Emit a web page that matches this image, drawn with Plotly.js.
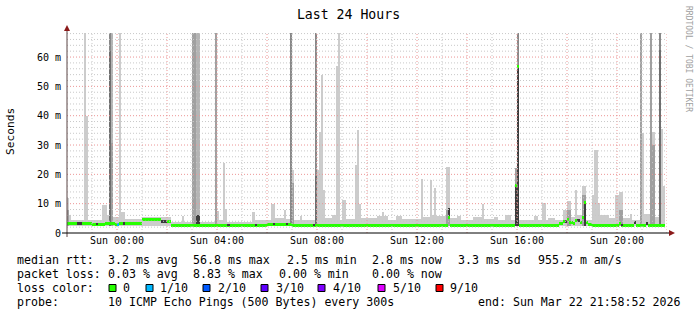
<!DOCTYPE html>
<html><head><meta charset="utf-8">
<script src="https://cdn.plot.ly/plotly-3.0.1.min.js"></script>
<style>html,body{margin:0;padding:0;background:#fff;}#chart{width:697px;height:315px;}</style>
</head><body><div id="chart"></div>
<script>
// ---------- DATA (times are HH:MM, window Sat 22:00 -> Sun 22:00) ----------
// light smoke (outer pings)
const lightFrom = ["22:00","22:05","22:10","22:40","22:45","22:50","23:25","23:35","23:50","00:05","00:10","00:20","01:00","02:10","02:35","02:40","03:20","04:00","04:05","04:15","04:20","04:25","05:25","05:30","06:10","06:20","06:40","06:45","07:00","07:05","07:20","07:25","08:00","08:05","08:10","08:15","08:20","08:35","08:45","08:50","08:55","09:00","09:10","09:30","09:35","09:40","09:45","10:25","10:35","10:40","10:50","11:10","11:25","12:10","12:15","12:30","12:35","12:40","12:45","13:10","13:20","13:35","13:45","14:15","14:35","14:40","15:05","15:15","15:30","15:45","16:05","16:40","16:50","17:00","17:10","17:15","17:30","17:50","18:00","18:10","18:20","18:25","18:35","18:45","19:00","19:05","19:15","19:20","19:40","19:55","20:05","20:15","20:30","20:35","21:00","21:05","21:25","21:30","21:45","21:50"];
const lightTo   = ["22:05","22:10","22:40","22:45","22:50","23:25","23:35","23:40","00:05","00:10","00:20","01:00","02:10","02:35","02:40","03:00","03:55","04:05","04:15","04:20","04:25","05:25","05:30","06:10","06:20","06:40","06:45","06:55","07:05","07:20","07:25","07:55","08:05","08:10","08:15","08:20","08:35","08:45","08:50","08:55","09:00","09:10","09:30","09:35","09:40","09:45","10:25","10:35","10:40","10:50","11:10","11:25","12:10","12:15","12:30","12:35","12:40","12:45","13:10","13:20","13:35","13:45","14:15","14:35","14:40","15:05","15:15","15:30","15:45","15:55","16:40","16:50","17:00","17:10","17:15","17:30","17:50","18:00","18:10","18:20","18:25","18:35","18:45","19:00","19:05","19:15","19:20","19:40","19:55","20:05","20:15","20:30","20:35","20:55","21:05","21:20","21:30","21:40","21:50","21:55"];
const lightTop  = [12,6,4.5,70,40,4.3,9.6,6.2,5.5,70,7,4.8,5.4,3.6,5.7,3.6,3.8,7.4,4.5,24,8.3,3.9,7,4.5,10,5.2,8,4.8,21.6,4.3,5.9,4.3,21.6,34.6,54,14.5,5,6.2,56.8,70,4.5,11.4,4.8,23.3,35.2,10,5,5.9,7,5.9,4.5,5.9,4.8,18.5,5.5,18,6,15.5,5.8,22.5,5,5.9,4.5,5.5,10,4.8,5.6,4.5,6.2,4.5,4.5,5.9,4.5,10.3,4.5,5.2,4.5,8,10.8,5.5,14.8,6,16,4.5,13,28.2,10.3,6.2,5,12.8,14,5,6.5,4.5,34,6.5,34.6,5.5,35.5,16];
// pale smoke
const paleFrom = ["23:45","03:10"];
const paleTo   = ["23:50","03:20"];
const paleTop  = [70,70];
// grey smoke
const greyFrom = ["22:00","23:45","03:00","03:55","07:00","13:10","15:55","18:00","18:35","20:05","20:55","21:20","21:25"];
const greyTo   = ["22:05","23:50","03:10","04:00","07:05","13:20","16:00","18:10","18:45","20:15","21:00","21:25","21:30"];
const greyTop  = [8,30.7,70,70,17,8,22,8,13,8,70,70,30];
// dark smoke
const darkFrom = ["23:40","06:55","07:55","16:00","21:40"];
const darkTo   = ["23:45","07:00","08:00","16:05","21:45"];
const darkTop  = [70,70,70,70,70];
// darker smoke
const deepFrom = ["23:40","07:55","21:40"];
const deepTo   = ["23:45","08:00","21:45"];
const deepTop  = [62,19.3,62.5];
// densest smoke
const blackFrom = ["15:55","16:00","18:40","03:10"];
const blackTo   = ["16:00","16:05","18:45","03:20"];
const blackTop  = [16.1,56.8,10.3,6];
// median rtt (ms) and loss class per step
const medFrom  = ["22:00","22:10","22:40","23:00","23:30","23:55","00:00","00:05","00:25","01:00","01:45","02:10","04:00","06:00","07:00","13:15","13:20","15:55","16:00","16:05","17:40","17:50","18:00","18:05","18:15","18:20","18:30","18:35","18:40","18:45","18:50","19:00","20:05","20:10","20:40","20:45","21:10","21:15"];
const medTo    = ["22:10","22:40","23:00","23:30","23:55","00:00","00:05","00:25","01:00","01:45","02:10","04:00","06:00","07:00","13:15","13:20","15:55","16:00","16:05","17:40","17:50","18:00","18:05","18:15","18:20","18:30","18:35","18:40","18:45","18:50","19:00","20:05","20:10","20:40","20:45","21:10","21:15","21:55"];
const medValue = [3.4,3.1,3.3,3.0,3.3,3.0,3.0,3.1,3.2,4.5,3.8,2.6,2.7,3.0,2.7,5.3,2.7,16.1,56.8,2.7,3.2,3.9,4.5,3.6,3.2,4.2,3.5,5.3,10.4,3.5,3.0,2.7,3.3,2.7,3.5,2.7,3.4,2.7];
const medLoss  = [0,0,0,0,0,0,1,0,0,0,0,0,0,0,0,0,0,0,0,0,0,0,0,0,0,0,0,0,0,0,0,0,0,0,0,0,0,0];
// dense ping clusters drawn over the median
const markFrom = ["22:25","23:10","00:15","01:45","04:25","05:30","06:15","06:45","07:50","13:15","17:55","18:25","20:10","20:40","21:10"];
const markTo   = ["22:35","23:15","00:20","02:00","04:30","05:35","06:20","06:50","07:55","13:20","18:00","18:30","20:15","20:45","21:15"];
const markLow  = [2.7,2.6,2.7,3.5,2.3,2.3,2.6,2.6,2.3,5.8,3.4,3.7,2.3,3.0,2.9];
const markHigh = [3.6,3.5,3.6,4.5,3.2,3.2,3.5,3.5,3.2,8.5,4.4,4.7,3.2,4.0,3.9];
const smokeFloor = 2.4;
// axes
const tickTimes  = ["00:00","04:00","08:00","12:00","16:00","20:00"];
const tickLabels = ["Sun 00:00","Sun 04:00","Sun 08:00","Sun 12:00","Sun 16:00","Sun 20:00"];
const yTickValues = [0,10,20,30,40,50,60];
const yTickLabels = ["0","10 m","20 m","30 m","40 m","50 m","60 m"];
// legend
const lossNames  = ["0","1/10","2/10","3/10","4/10","5/10","9/10"];
const lossColors = ["#26ff00","#00b8ff","#0059ff","#5e00ff","#7e00ff","#dd00ff","#ff0000"];
const rttText  = ["median rtt:","3.2 ms avg","56.8 ms max","2.5 ms min","2.8 ms now","3.3 ms sd","955.2 m am/s"];
const lossText = ["packet loss:","0.03 % avg","8.83 % max","0.00 % min","0.00 % now"];
const probeText = ["probe:","10 ICMP Echo Pings (500 Bytes) every 300s","end: Sun Mar 22 21:58:52 2026"];

// ---------- helpers ----------
function toX(hm){ const h = +hm.split(':')[0]; return (h >= 22 ? '2026-03-21 ' : '2026-03-22 ') + hm + ':00'; }
function mins(hm){ const p = hm.split(':').map(Number); return ((p[0]*60 + p[1]) - 1320 + 1440) % 1440; }
function span(a,b){ return (mins(b) - mins(a)) * 60000; }

function smokeTrace(from, to, top, color){
  return {type:'bar', x: from.map(toX), base: from.map(()=>smokeFloor), y: top.map(v=>v - smokeFloor),
    width: from.map((f,i)=>span(f,to[i])), offset: 0, marker:{color: color, line:{width:0}}, hoverinfo:'skip'};
}
const half = 0.5;
const traces = [
  smokeTrace(lightFrom, lightTo, lightTop, '#cccccc'),
  smokeTrace(paleFrom, paleTo, paleTop, '#b4b4b4'),
  smokeTrace(greyFrom, greyTo, greyTop, '#a0a0a0'),
  smokeTrace(darkFrom, darkTo, darkTop, '#888888'),
  smokeTrace(deepFrom, deepTo, deepTop, '#6e6e6e'),
  smokeTrace(blackFrom, blackTo, blackTop, '#3c3c3c'),
  {type:'bar', x: medFrom.map(toX), base: medValue.map(v=>v-half), y: medValue.map(()=>2*half),
   width: medFrom.map((f,i)=>span(f,medTo[i])), offset:0, marker:{color: medLoss.map(l=>lossColors[l]), line:{width:0}}, hoverinfo:'skip'},
  {type:'bar', x: markFrom.map(toX), base: markLow, y: markHigh.map((v,i)=>v-markLow[i]),
   width: markFrom.map((f,i)=>span(f,markTo[i])), offset:0, marker:{color:'#3a3a3a', line:{width:0}}, hoverinfo:'skip'}
];

// ---------- grid & decorations ----------
const shapes = [];
const minorC = 'rgb(200,200,200)', majorC = 'rgb(236,150,150)';
const startMs = Date.UTC(2026,2,21,22,0,0);
function isoOf(ms){ return new Date(ms).toISOString().replace('T',' ').slice(0,19); }
for (let k = 1; k <= 24; k++) {
  const hr = (22 + k) % 24;
  const x = isoOf(startMs + k*3600000);
  shapes.push({type:'line', layer:'above', xref:'x', yref:'paper', x0:x, x1:x, y0:0, y1:1,
    line:{color: hr % 2 === 0 ? majorC : minorC, width:1, dash:'1px,2px'}});
}
for (let v = 2; v <= 68; v += 2) {
  shapes.push({type:'line', layer:'above', xref:'paper', yref:'y', x0:0, x1:1, y0:v, y1:v,
    line:{color: v % 10 === 0 ? majorC : minorC, width:1, dash:'1px,2px'}});
}
// axis lines
shapes.push({type:'line', layer:'above', xref:'paper', yref:'paper', x0:0, x1:0, y0:-4/200, y1:1+2/200, line:{color:'#5a4444', width:1}});
shapes.push({type:'line', layer:'above', xref:'paper', yref:'paper', x0:-5/600, x1:1+2/600, y0:0, y1:0, line:{color:'#000000', width:1}});
// arrows
shapes.push({type:'path', layer:'above', xref:'paper', yref:'paper', xsizemode:'pixel', ysizemode:'pixel', xanchor:0, yanchor:1,
  path:'M-3,2 L3,2 L0,8 Z', fillcolor:'#8b1a1a', line:{width:0}});
shapes.push({type:'path', layer:'above', xref:'paper', yref:'paper', xsizemode:'pixel', ysizemode:'pixel', xanchor:1, yanchor:0,
  path:'M2,3 L2,-3 L8,0 Z', fillcolor:'#8b1a1a', line:{width:0}});

// legend squares
const sqX = [109,146,203,261,318,378,436];
function px(x){ return (x - 67) / 600; }
function py(y){ return (233 - y) / 200; }
sqX.forEach((x,i)=>{
  shapes.push({type:'rect', xref:'paper', yref:'paper', x0:px(x), x1:px(x+7), y0:py(291.5), y1:py(284.5),
    fillcolor: lossColors[i], line:{color:'#000', width:1}});
});

const mono = 'DejaVu Sans Mono, monospace';
const annotations = [];
function txt(s, x, y, opts){
  annotations.push(Object.assign({text: s.replace(/ /g,'\u00a0'), xref:'paper', yref:'paper', x: px(x), y: py(y),
    xanchor:'left', yanchor:'middle', showarrow:false, borderpad:0, font:{family:mono, size:11.6, color:'#000'}}, opts||{}));
}
const rttX = [17,108,193,287,372.5,458,537.5];
rttText.forEach((s,i)=>txt(s, rttX[i]-1, 259.5));
const lossX = [17,108,193,279,372.5];
lossText.forEach((s,i)=>txt(s, lossX[i]-1, 273.5));
txt('loss color:', 16, 287.5);
const lossLabelX = [123,160,218,276,333,393,450];
lossNames.forEach((s,i)=>txt(s, lossLabelX[i]-1, 287.5));
const probeX = [17,108,478];
probeText.forEach((s,i)=>txt(s, probeX[i]-1, 301.5));
annotations.push({text:'Seconds', xref:'paper', yref:'paper', x:px(10.5), y:py(131.5), xanchor:'center', yanchor:'middle',
  textangle:-90, showarrow:false, font:{family:mono, size:11.2, color:'#000'}});
annotations.push({text:'RRDTOOL / TOBI OETIKER', xref:'paper', yref:'paper', x:px(688.5), y:py(58.5), xanchor:'center', yanchor:'middle',
  textangle:90, showarrow:false, font:{family:mono, size:8, color:'#a0a0a0'}});

const layout = {
  width:697, height:315,
  margin:{l:67, r:30, t:33, b:82, pad:0},
  paper_bgcolor:'#ffffff', plot_bgcolor:'#ffffff',
  barmode:'overlay', bargap:0, showlegend:false,
  font:{family:mono, size:10, color:'#000'},
  title:{text:'Last 24 Hours', font:{family:mono, size:13.2, color:'#000'}, x:0.5, xanchor:'center', y:1-14/315, yanchor:'middle'},
  xaxis:{type:'date', range:['2026-03-21 22:00:00','2026-03-22 22:00:00'], tickvals: tickTimes.map(toX), ticktext: tickLabels,
    showgrid:false, zeroline:false, showline:false, ticks:'', tickfont:{family:mono, size:10, color:'#000'}, fixedrange:true},
  yaxis:{range:[0,68.2], tickvals: yTickValues, ticktext: yTickLabels, showgrid:false, zeroline:false, showline:false,
    ticks:'', ticklabelstandoff:5, tickfont:{family:mono, size:10, color:'#000'}, fixedrange:true},
  shapes: shapes, annotations: annotations
};
Plotly.newPlot('chart', traces, layout, {staticPlot:true, displayModeBar:false});
</script></body></html>
